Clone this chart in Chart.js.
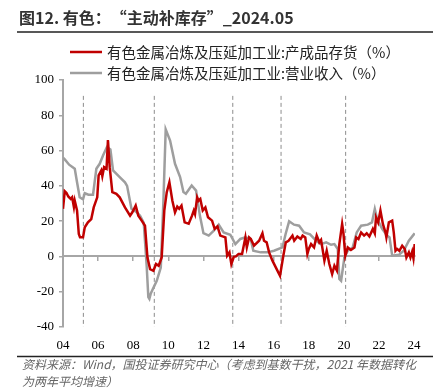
<!DOCTYPE html>
<html>
<head>
<meta charset="utf-8">
<script src="https://cdn.jsdelivr.net/npm/chart.js@4.4.1/dist/chart.umd.min.js"></script>
<style>
  html, body { margin: 0; padding: 0; background: #fff; }
</style>
</head>
<body>
<canvas id="chart" width="442" height="390"></canvas>
<script>
// Series names (legend)
const seriesNames = [
    '有色金属冶炼及压延加工业:产成品存货（%）',
    '有色金属冶炼及压延加工业:营业收入（%）'
];

// Finished goods inventory, YoY %
const inventoryDates = [
    2004.00, 2004.10, 2004.20, 2004.30, 2004.44, 2004.52, 2004.62, 2004.67, 2004.80, 2004.90,
    2004.97, 2005.14, 2005.24, 2005.42, 2005.61, 2005.75, 2005.95, 2006.03, 2006.18, 2006.24,
    2006.34, 2006.48, 2006.56, 2006.66, 2006.81, 2007.04, 2007.23, 2007.53, 2007.82, 2007.95,
    2008.14, 2008.29, 2008.48, 2008.67, 2008.81, 2008.96, 2009.15, 2009.30, 2009.45, 2009.62,
    2009.77, 2009.91, 2010.06, 2010.23, 2010.38, 2010.51, 2010.62, 2010.75, 2010.93, 2011.16,
    2011.35, 2011.45, 2011.52, 2011.64, 2011.72, 2011.82, 2011.96, 2012.11, 2012.26, 2012.49,
    2012.64, 2012.80, 2012.96, 2013.25, 2013.35, 2013.48, 2013.59, 2013.73, 2013.85, 2014.00,
    2014.20, 2014.39, 2014.47, 2014.60, 2014.70, 2014.88, 2015.17, 2015.36, 2015.45, 2015.60,
    2015.74, 2015.93, 2016.12, 2016.36, 2016.55, 2016.69, 2016.85, 2017.07, 2017.17, 2017.35,
    2017.54, 2017.65, 2017.80, 2017.92, 2018.00, 2018.13, 2018.30, 2018.45, 2018.60, 2018.70,
    2018.89, 2019.02, 2019.17, 2019.33, 2019.46, 2019.60, 2019.74, 2019.90, 2019.97, 2020.08,
    2020.22, 2020.40, 2020.60, 2020.70, 2020.83, 2020.98, 2021.15, 2021.30, 2021.45, 2021.65,
    2021.76, 2021.83, 2021.95, 2022.08, 2022.22, 2022.37, 2022.42, 2022.56, 2022.75, 2022.84,
    2022.94, 2023.03, 2023.16, 2023.32, 2023.47, 2023.56, 2023.70, 2023.79, 2023.89, 2023.96,
    2024.03
];
const inventoryValues = [
    27, 37, 36, 34, 32.6, 33.5, 28, 31.5, 26, 12.7,
    10.8, 10.8, 16.5, 19.3, 21.2, 27.8, 33.5, 45.9, 48.7, 45.5,
    50.6, 49.7, 66, 50.6, 36.4, 35.5, 33.5, 27.8, 23.1, 25,
    28.8, 23.1, 20.3, 17.4, -0.6, -7.2, -8.1, -4.3, -5.3, -0.6,
    26, 36.4, 42, 31.6, 25, 28.2, 27, 28.8, 19.3, 18.5,
    23.1, 26, 24, 33.5, 31.6, 32.6, 26, 27.8, 22.2, 20.3,
    15.6, 17, 11.8, 10.8, 0.4, 2.3, -4.3, -0.2, 0, 1.4,
    1.4, 10.8, 5.1, 10.8, 9.9, 6.1, 8.9, 13.1, 8.9, 8,
    2.3, -2.4, -6.2, -11, 0.4, 8, 8.9, 11.8, 8.9, 11.3,
    9.9, 11.8, 10.8, 1.4, 4.2, 7, 5.1, 11.8, 8, 9.4,
    -2.4, 3.2, -4.3, -10, -5.3, -8, 7, 18.4, 13.6, 0.4,
    5.1, 3.7, 5.1, 10.8, 9.9, 13.6, 11.8, 13.1, 11.3, 15.6,
    13.1, 22.2, 19.3, 26, 18.4, 13.6, 10.8, 19.3, 20.3, 13.6,
    3.2, 4.2, 3.2, 6.1, 4.2, -0.6, 2.3, -0.6, 2.8, -0.9,
    7
];

// Operating revenue, YoY %
const revenueDates = [
    2004.00, 2004.10, 2004.35, 2004.67, 2004.80, 2004.95, 2005.14, 2005.24, 2005.45, 2005.71,
    2005.80, 2005.90, 2006.09, 2006.28, 2006.50, 2006.70, 2006.85, 2007.23, 2007.53, 2007.65,
    2007.90, 2008.20, 2008.39, 2008.60, 2008.77, 2008.86, 2008.92, 2009.00, 2009.34, 2009.57,
    2009.72, 2009.85, 2010.10, 2010.38, 2010.67, 2010.86, 2011.00, 2011.33, 2011.58, 2011.80,
    2012.00, 2012.30, 2012.59, 2012.87, 2013.15, 2013.53, 2013.82, 2014.10, 2014.39, 2014.69,
    2014.84, 2015.26, 2015.64, 2016.02, 2016.50, 2016.68, 2016.88, 2017.16, 2017.45, 2017.73,
    2018.07, 2018.42, 2018.70, 2018.99, 2019.27, 2019.46, 2019.65, 2019.74, 2019.84, 2020.03,
    2020.22, 2020.50, 2020.73, 2020.98, 2021.36, 2021.60, 2021.76, 2021.89, 2022.18, 2022.46,
    2022.60, 2022.75, 2023.13, 2023.41, 2023.70, 2024.03
];
const revenueValues = [
    56, 55, 52, 49.7, 42, 33.5, 32.4, 35.8, 35, 35,
    42, 49.7, 52.5, 57.2, 62, 60.6, 48.7, 45, 42, 40,
    27, 25, 23, 19, -6, -23, -24, -21, -13.8, -6.3,
    31.6, 72, 65.7, 52.5, 45, 36.5, 35.5, 40.2, 37.3, 23,
    13.2, 11.8, 14.6, 18, 13.6, 12.3, 7, 9.9, 10.8, 9.9,
    3.2, 2.3, 2.3, 3.2, 5.1, 12.7, 19.9, 18, 17.4, 13.6,
    12.5, 8.9, 7, 8, 6.6, 7, 4.2, -12.8, -13.8, -0.6,
    3.2, 5.1, 13.6, 17.4, 18, 19.3, 26.9, 21.3, 15.6, 11.8,
    10.8, 0.4, 0.9, 3.2, 8.9, 13.1
];

// Dashed cycle markers (years)
const cycleMarks = [2005.16, 2009.2, 2013.67, 2016.42, 2020.1];

// Axis ticks
const xMin = 2004, xMax = 2024.05, xStep = 2;
const yMin = -40, yMax = 100, yStep = 20;

const titleText = '图12. 有色：“主动补库存”_2024.05';
const sourceLines = [
    '资料来源：Wind，国投证券研究中心（考虑到基数干扰，2021 年数据转化',
    '为两年平均增速）'
];

const RED = '#C00000';
const GREY = '#9E9E9E';
const AXIS = '#A6A6A6';

function toPoints(xs, ys) {
    return xs.map((x, i) => ({ x: x, y: ys[i] }));
}

// Vertical dashed markers: two points each, separated by a gap
const cyclePoints = [];
cycleMarks.forEach(m => {
    cyclePoints.push({ x: m, y: 91 }, { x: m, y: -40 }, { x: m, y: null });
});

// Title, rules, legend and source note
const decorations = {
    id: 'decorations',
    afterDraw(chart) {
        const ctx = chart.ctx;
        ctx.save();
        ctx.textBaseline = 'middle';
        ctx.textAlign = 'left';

        ctx.fillStyle = '#333';
        ctx.font = 'bold 16px "Noto Sans CJK SC"';
        ctx.fillText(titleText, 19, 18);

        ctx.strokeStyle = '#222';
        ctx.lineWidth = 1.5;
        ctx.beginPath();
        ctx.moveTo(17, 32); ctx.lineTo(433, 32);
        ctx.moveTo(17, 356.5); ctx.lineTo(433, 356.5);
        ctx.stroke();

        const legendColors = [RED, GREY];
        const legendY = [52, 73];
        ctx.font = '14.5px "Noto Sans CJK SC"';
        seriesNames.forEach((name, i) => {
            ctx.strokeStyle = legendColors[i];
            ctx.lineWidth = 2.5;
            ctx.beginPath();
            ctx.moveTo(70, legendY[i]); ctx.lineTo(102, legendY[i]);
            ctx.stroke();
            ctx.fillStyle = '#222';
            ctx.fillText(name, 107, legendY[i]);
        });

        ctx.fillStyle = '#666';
        ctx.font = 'italic 12px "Noto Sans CJK SC"';
        sourceLines.forEach((line, i) => {
            ctx.fillText(line, 22, 364 + i * 17);
        });
        ctx.restore();
    }
};

const tickFont = { family: '"Liberation Serif", "Times New Roman", serif', size: 13 };

new Chart(document.getElementById('chart').getContext('2d'), {
    type: 'line',
    data: {
        datasets: [
            {
                label: seriesNames[0],
                data: toPoints(inventoryDates, inventoryValues),
                borderColor: RED,
                borderWidth: 2.5,
                pointRadius: 0,
                tension: 0
            },
            {
                label: seriesNames[1],
                data: toPoints(revenueDates, revenueValues),
                borderColor: GREY,
                borderWidth: 2.5,
                pointRadius: 0,
                tension: 0
            },
            {
                label: 'cycle',
                data: cyclePoints,
                borderColor: '#8C8C8C',
                borderWidth: 1,
                borderDash: [4, 3],
                pointRadius: 0,
                spanGaps: false
            }
        ]
    },
    options: {
        responsive: false,
        animation: false,
        layout: { padding: { left: 30, right: 27, top: 80, bottom: 35 } },
        plugins: {
            legend: { display: false },
            tooltip: { enabled: false }
        },
        scales: {
            x: {
                type: 'linear',
                position: { y: 0 },
                min: xMin,
                max: xMax,
                ticks: { display: false, stepSize: xStep, includeBounds: false },
                grid: { drawOnChartArea: false, tickLength: 4, color: AXIS, lineWidth: 1.5 },
                border: { color: AXIS, width: 2 }
            },
            xLabels: {
                axis: 'x',
                type: 'linear',
                position: 'bottom',
                min: xMin,
                max: xMax,
                ticks: {
                    stepSize: xStep,
                    includeBounds: false,
                    maxRotation: 0,
                    autoSkip: false,
                    padding: 11,
                    color: '#000',
                    font: tickFont,
                    callback: v => String(v).slice(2)
                },
                grid: { display: false, drawTicks: false },
                border: { display: false },
                afterFit: s => { s.height = 28; }
            },
            y: {
                min: yMin,
                max: yMax,
                ticks: { stepSize: yStep, padding: 5, color: '#000', font: tickFont },
                grid: { drawOnChartArea: false, tickLength: 4, color: AXIS, lineWidth: 1.5 },
                border: { color: AXIS, width: 2 },
                afterFit: s => { s.width = 33; }
            }
        }
    },
    plugins: [decorations]
});
</script>
</body>
</html>
